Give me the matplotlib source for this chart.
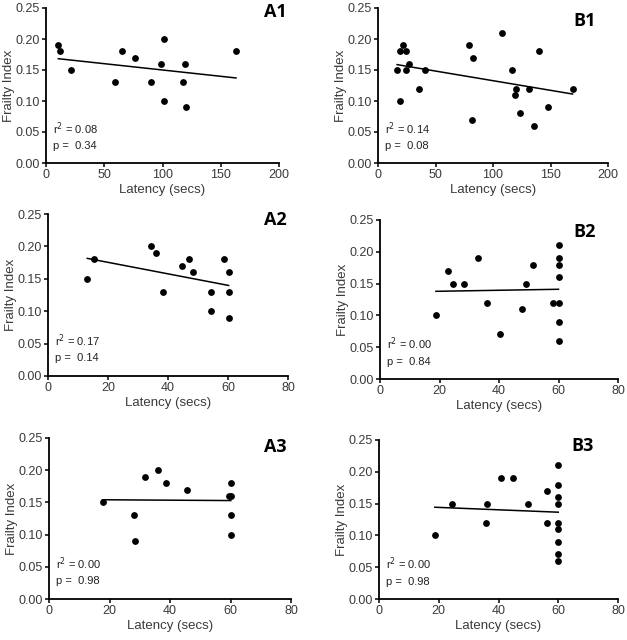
import numpy as np
import matplotlib.pyplot as plt

plt.rcParams['font.family'] = ['Liberation Sans', 'DejaVu Sans']

# =========================
# DATA
# =========================
a1_x = [10.6, 12, 21.4, 58.9, 64.9, 76.6, 89.7, 98.6, 101.4, 101.4, 117.4, 118.9, 120.6, 163.1]
a1_y = [0.19, 0.18, 0.15, 0.13, 0.18, 0.17, 0.13, 0.16, 0.20, 0.10, 0.13, 0.16, 0.09, 0.18]

b1_x = [16.6, 18.9, 19.5, 21.8, 24.7, 24.7, 26.7, 36, 40.7, 78.8, 81.7, 82.6, 107.6,
        116.6, 118.9, 120, 123.5, 131.7, 136, 140, 147.7, 169.2]
b1_y = [0.15, 0.10, 0.18, 0.19, 0.18, 0.15, 0.16, 0.12, 0.15, 0.19, 0.07, 0.17, 0.21,
        0.15, 0.11, 0.12, 0.08, 0.12, 0.06, 0.18, 0.09, 0.12]

a2_x = [13.1, 15.3, 34.2, 35.9, 38.2, 44.8, 46.9, 48.2, 54.2, 54.2, 58.8, 60.2, 60.2, 60.2]
a2_y = [0.15, 0.18, 0.20, 0.19, 0.13, 0.17, 0.18, 0.16, 0.13, 0.10, 0.18, 0.16, 0.13, 0.09]

b2_x = [18.8, 22.8, 24.6, 28.4, 32.9, 35.9, 40.5, 47.8, 49.1, 51.5, 58.3,
        60, 60, 60, 60, 60, 60, 60]
b2_y = [0.10, 0.17, 0.15, 0.15, 0.19, 0.12, 0.07, 0.11, 0.15, 0.18, 0.12,
        0.21, 0.19, 0.18, 0.16, 0.12, 0.09, 0.06]

a3_x = [17.7, 28.1, 28.4, 31.7, 36.1, 38.8, 45.7, 59.4, 60.1, 60.1, 60.1, 60.1]
a3_y = [0.15, 0.13, 0.09, 0.19, 0.20, 0.18, 0.17, 0.16, 0.18, 0.16, 0.13, 0.10]

b3_x = [18.7, 24.3, 35.7, 36.3, 41, 45, 50, 56.3, 56.4,
        60, 60, 60, 60, 60, 60, 60, 60, 60]
b3_y = [0.10, 0.15, 0.12, 0.15, 0.19, 0.19, 0.15, 0.17, 0.12,
        0.21, 0.18, 0.16, 0.15, 0.12, 0.11, 0.09, 0.07, 0.06]

panel_names = ["A1", "B1", "A2", "B2", "A3", "B3"]
r2_labels = ["0.08", "0.14", "0.17", "0.00", "0.00", "0.00"]
p_labels = ["0.34", "0.08", "0.14", "0.84", "0.98", "0.98"]
x_max = [200, 200, 80, 80, 80, 80]
x_step = [50, 50, 20, 20, 20, 20]

xs = [a1_x, b1_x, a2_x, b2_x, a3_x, b3_x]
ys = [a1_y, b1_y, a2_y, b2_y, a3_y, b3_y]

# =========================
# LAYOUT (pixel boxes: left, right, top, bottom)
# =========================
W, H = 627, 640
boxes = [(46, 279, 8, 163), (378, 608, 8, 163),
         (48, 288, 214, 376), (380, 618, 220, 379),
         (49, 291, 438, 599), (379, 618, 440, 599)]
label_pos = [(287, 17), (596, 26), (287, 225), (596, 237), (287, 452), (594, 451)]

fig = plt.figure(figsize=(W / 100, H / 100), dpi=100)

for i, name in enumerate(panel_names):
    l, r, t, b = boxes[i]
    ax = fig.add_axes([l / W, 1 - b / H, (r - l) / W, (b - t) / H])
    x = np.array(xs[i])
    y = np.array(ys[i])
    ax.scatter(x, y, s=24, color="black", zorder=3, linewidths=0)

    # linear regression line over the data range
    slope, intercept = np.polyfit(x, y, 1)
    xl = np.array([x.min(), x.max()])
    ax.plot(xl, slope * xl + intercept, color="black", lw=1.1)

    ax.set_xlim(0, x_max[i])
    ax.set_ylim(0, 0.25)
    ax.set_xticks(np.arange(0, x_max[i] + 1, x_step[i]))
    ax.set_yticks(np.arange(0, 0.2501, 0.05))
    ax.yaxis.set_major_formatter(plt.FormatStrFormatter("%.2f"))
    for s in ["top", "right"]:
        ax.spines[s].set_visible(False)
    for s in ["left", "bottom"]:
        ax.spines[s].set_linewidth(1.3)
    ax.tick_params(direction="out", length=3, width=1.1, labelsize=9,
                   labelcolor="#3a3a3a", pad=1.5)
    ax.set_xlabel("Latency (secs)", fontsize=9.5, color="#3a3a3a", labelpad=2)
    ax.set_ylabel("Frailty Index", fontsize=9.5, color="#3a3a3a", labelpad=0.5)

    ax.text(0.03, 0.22, "r$^2$ = " + r2_labels[i], transform=ax.transAxes,
            fontsize=8, color="#222222", va="center")
    ax.text(0.03, 0.11, "p =  " + p_labels[i], transform=ax.transAxes,
            fontsize=8, color="#222222", va="center")

    lx, ly = label_pos[i]
    fig.text(lx / W, 1 - ly / H, name, ha="right", va="baseline",
             fontsize=13, fontweight="bold", family=["Open Sans", "DejaVu Sans"])

fig.savefig("out.png", dpi=100)
